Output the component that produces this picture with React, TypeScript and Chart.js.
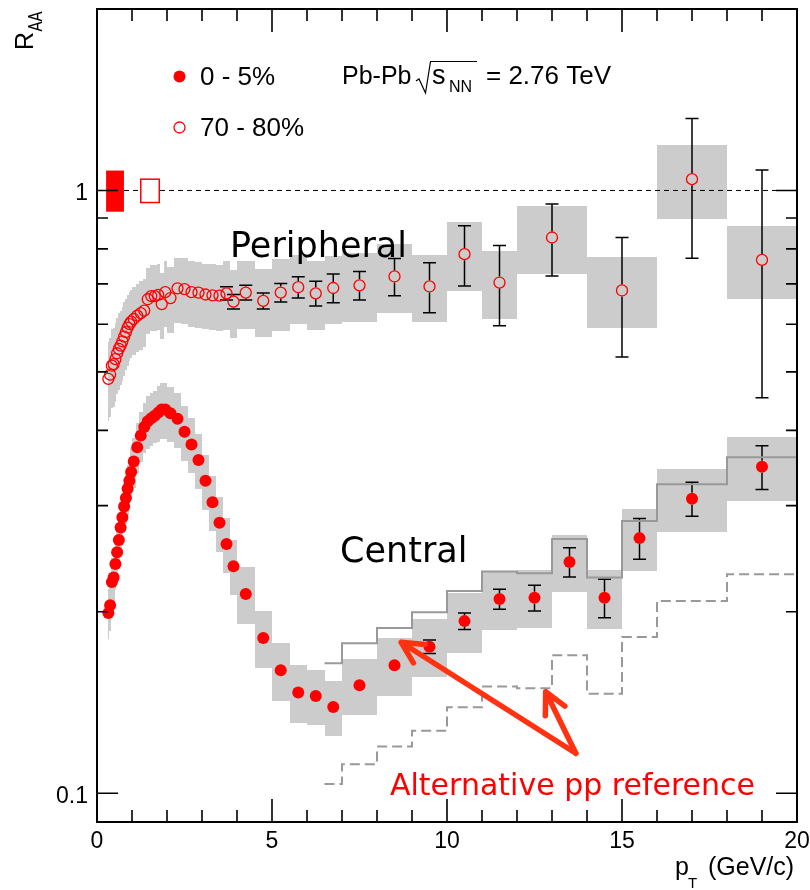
import React, { useEffect, useRef } from "react";
import { Chart, registerables } from "chart.js";

Chart.register(...registerables);

// ---------------- data ----------------
// 0-5% (central), filled circles
const cenPt = [0.325, 0.375, 0.425, 0.475, 0.525, 0.575, 0.625, 0.675, 0.725, 0.775, 0.825, 0.875, 0.925, 0.975,
  1.05, 1.15, 1.25, 1.35, 1.45, 1.55, 1.65, 1.75, 1.85, 1.95,
  2.1, 2.3, 2.5, 2.7, 2.9, 3.1, 3.3, 3.5, 3.7, 3.9,
  4.25, 4.75, 5.25, 5.75, 6.25, 6.75, 7.5, 8.5, 9.5, 10.5, 11.5, 12.5, 13.5, 14.5, 15.5, 17, 19];
const cenBinW = [0.05, 0.05, 0.05, 0.05, 0.05, 0.05, 0.05, 0.05, 0.05, 0.05, 0.05, 0.05, 0.05, 0.05,
  0.1, 0.1, 0.1, 0.1, 0.1, 0.1, 0.1, 0.1, 0.1, 0.1,
  0.2, 0.2, 0.2, 0.2, 0.2, 0.2, 0.2, 0.2, 0.2, 0.2,
  0.5, 0.5, 0.5, 0.5, 0.5, 0.5, 1, 1, 1, 1, 1, 1, 1, 1, 1, 2, 2];
const cenRaa = [0.199, 0.205, 0.224, 0.228, 0.240, 0.251, 0.263, 0.276, 0.287, 0.299, 0.309, 0.320, 0.330, 0.341,
  0.355, 0.375, 0.392, 0.405, 0.414, 0.419, 0.423, 0.428, 0.433, 0.433,
  0.427, 0.418, 0.398, 0.379, 0.357, 0.330, 0.304, 0.281, 0.259, 0.238,
  0.214, 0.181, 0.160, 0.147, 0.145, 0.139, 0.151, 0.163, 0.175, 0.193, 0.210, 0.211, 0.242, 0.211, 0.265, 0.308, 0.348];
const cenStat = [0, 0, 0, 0, 0, 0, 0, 0, 0, 0, 0, 0, 0, 0,
  0, 0, 0, 0, 0, 0, 0, 0, 0, 0,
  0, 0, 0, 0, 0, 0, 0, 0, 0, 0,
  0, 0, 0, 0, 0, 0, 0.002, 0.003, 0.0045, 0.006, 0.008, 0.0103, 0.0135, 0.0155, 0.0206, 0.020, 0.029];
const cenSysRel = [0.095, 0.095, 0.095, 0.095, 0.095, 0.095, 0.095, 0.095, 0.095, 0.095, 0.095, 0.095, 0.095, 0.095,
  0.095, 0.095, 0.095, 0.095, 0.1, 0.1, 0.1, 0.105, 0.105, 0.105,
  0.105, 0.105, 0.105, 0.105, 0.105, 0.105, 0.105, 0.105, 0.105, 0.105,
  0.107, 0.107, 0.11, 0.11, 0.105, 0.105, 0.107, 0.11, 0.11, 0.115, 0.11, 0.11, 0.11, 0.112, 0.117, 0.12, 0.122];

// 70-80% (peripheral), open circles
const perPt = [0.325, 0.375, 0.425, 0.475, 0.525, 0.575, 0.625, 0.675, 0.725, 0.775, 0.825, 0.875, 0.925, 0.975,
  1.05, 1.15, 1.25, 1.35, 1.45, 1.55, 1.65, 1.75, 1.85, 1.95,
  2.1, 2.3, 2.5, 2.7, 2.9, 3.1, 3.3, 3.5, 3.7, 3.9,
  4.25, 4.75, 5.25, 5.75, 6.25, 6.75, 7.5, 8.5, 9.5, 10.5, 11.5, 13, 15, 17, 19];
const perBinW = [0.05, 0.05, 0.05, 0.05, 0.05, 0.05, 0.05, 0.05, 0.05, 0.05, 0.05, 0.05, 0.05, 0.05,
  0.1, 0.1, 0.1, 0.1, 0.1, 0.1, 0.1, 0.1, 0.1, 0.1,
  0.2, 0.2, 0.2, 0.2, 0.2, 0.2, 0.2, 0.2, 0.2, 0.2,
  0.5, 0.5, 0.5, 0.5, 0.5, 0.5, 1, 1, 1, 1, 1, 2, 2, 2, 2];
const perRaa = [0.487, 0.495, 0.512, 0.515, 0.525, 0.537, 0.546, 0.553, 0.562, 0.572, 0.582, 0.592, 0.600, 0.606,
  0.612, 0.620, 0.626, 0.632, 0.660, 0.668, 0.668, 0.671, 0.648, 0.678,
  0.663, 0.688, 0.686, 0.678, 0.677, 0.672, 0.670, 0.669, 0.675, 0.654,
  0.677, 0.656, 0.677, 0.691, 0.675, 0.689, 0.696, 0.720, 0.693, 0.784, 0.7035, 0.8355, 0.6825, 1.044, 0.767];
const perStat = [0, 0, 0, 0, 0, 0, 0, 0, 0, 0, 0, 0, 0, 0,
  0, 0, 0, 0, 0, 0, 0, 0, 0, 0,
  0, 0.01, 0.011, 0.011, 0.012, 0.012, 0.013, 0.015, 0.017, 0.018,
  0.019, 0.02, 0.024, 0.028, 0.032, 0.038, 0.038, 0.051, 0.066, 0.09, 0.107, 0.114, 0.153, 0.272, 0.314];
const perSysRel = [0.15, 0.15, 0.15, 0.15, 0.15, 0.145, 0.145, 0.14, 0.14, 0.14, 0.135, 0.135, 0.13, 0.13,
  0.13, 0.13, 0.13, 0.13, 0.125, 0.125, 0.125, 0.125, 0.125, 0.125,
  0.125, 0.125, 0.125, 0.125, 0.125, 0.125, 0.125, 0.125, 0.13, 0.13,
  0.13, 0.13, 0.135, 0.13, 0.13, 0.13, 0.13, 0.13, 0.128, 0.13, 0.13, 0.13, 0.135, 0.14, 0.14];

// Alternative pp reference histograms (bin edges + contents)
const altEdges = [6.5, 7, 8, 9, 10, 11, 12, 13, 14, 15, 16, 18, 20];
const altCentral = [0.1643, 0.1774, 0.188, 0.1997, 0.2166, 0.2332, 0.2318, 0.264, 0.228, 0.283, 0.3257, 0.361];
const altLower = [0.1036, 0.1117, 0.1195, 0.127, 0.1389, 0.1503, 0.1493, 0.1694, 0.1462, 0.1817, 0.2085, 0.2309];

// normalisation uncertainty boxes at R_AA = 1: [ptLow, ptHigh, low, high]
const normCentral = [0.26, 0.77, 0.922, 1.079];
const normPeripheral = [1.25, 1.78, 0.955, 1.044];

// arrow annotation (data coordinates): tail and two tips
const arrowTail = [13.68, 0.1165];
const arrowTips = [[8.69, 0.178], [12.82, 0.1474]];

// axis ticks
const xTickVals = [0, 1, 2, 3, 4, 5, 6, 7, 8, 9, 10, 11, 12, 13, 14, 15, 16, 17, 18, 19, 20];
const xMajorVals = [0, 5, 10, 15, 20];
const xTickLabels = ["0", "5", "10", "15", "20"];
const yMinorVals = [0.2, 0.3, 0.4, 0.5, 0.6, 0.7, 0.8, 0.9];
const yMajorVals = [0.1, 1];
const yTickLabels = ["0.1", "1"];

// ---------------- styles / layout ----------------
const RED = "#ff0000";
const GRAY_BOX = "#cccccc";
const GRAY_LINE = "#999999";
const ARROW_COLOR = "#ff3311";
const HELV = '"Liberation Sans", Arial, Helvetica, sans-serif';
const LUCIDA = '"DejaVu Sans", "Noto Sans", sans-serif';

const toXY = (xs: number[], ys: number[]) => xs.map((x, i) => ({ x, y: ys[i] }));
const stepPts = (edges: number[], vals: number[]) => {
  const p = vals.map((v, i) => ({ x: edges[i], y: v }));
  p.push({ x: edges[edges.length - 1], y: vals[vals.length - 1] });
  return p;
};

const overlay = {
  id: "raaOverlay",
  beforeDatasetsDraw(chart: any) {
    const { ctx, chartArea: a } = chart;
    const xs = chart.scales.x;
    const ys = chart.scales.y;
    ctx.save();
    ctx.beginPath();
    ctx.rect(a.left, a.top, a.right - a.left, a.bottom - a.top);
    ctx.clip();
    // systematic boxes (snapped to whole pixels so neighbouring bins join)
    ctx.fillStyle = GRAY_BOX;
    const boxes = (pt: number[], w: number[], v: number[], rel: number[]) => {
      pt.forEach((p, i) => {
        const x0 = Math.round(xs.getPixelForValue(p - w[i] / 2));
        let x1 = Math.round(xs.getPixelForValue(p + w[i] / 2));
        if (x1 <= x0) x1 = x0 + 1;
        const y0 = Math.round(ys.getPixelForValue(v[i] * (1 + rel[i])));
        const y1 = Math.round(ys.getPixelForValue(v[i] * (1 - rel[i])));
        ctx.fillRect(x0, y0, x1 - x0, y1 - y0);
      });
    };
    boxes(perPt, perBinW, perRaa, perSysRel);
    boxes(cenPt, cenBinW, cenRaa, cenSysRel);
    // statistical error bars
    ctx.strokeStyle = "#000";
    ctx.lineWidth = 1.5;
    const bars = (pt: number[], v: number[], s: number[]) => {
      pt.forEach((p, i) => {
        if (!s[i]) return;
        const px = xs.getPixelForValue(p);
        const yc = ys.getPixelForValue(v[i]);
        const yh = ys.getPixelForValue(v[i] + s[i]);
        const yl = ys.getPixelForValue(v[i] - s[i]);
        const r = 6;
        const cap = 6.5;
        ctx.beginPath();
        if (yc - yh > r) {
          ctx.moveTo(px, yc - r); ctx.lineTo(px, yh);
          ctx.moveTo(px - cap, yh); ctx.lineTo(px + cap, yh);
        }
        if (yl - yc > r) {
          ctx.moveTo(px, yc + r); ctx.lineTo(px, yl);
          ctx.moveTo(px - cap, yl); ctx.lineTo(px + cap, yl);
        }
        ctx.stroke();
      });
    };
    bars(perPt, perRaa, perStat);
    bars(cenPt, cenRaa, cenStat);
    ctx.restore();
  },
  afterDatasetsDraw(chart: any) {
    const { ctx } = chart;
    const xs = chart.scales.x;
    const ys = chart.scales.y;
    ctx.save();
    // normalisation boxes
    const nb = (b: number[], filled: boolean) => {
      const x0 = xs.getPixelForValue(b[0]);
      const x1 = xs.getPixelForValue(b[1]);
      const y0 = ys.getPixelForValue(b[3]);
      const y1 = ys.getPixelForValue(b[2]);
      if (filled) {
        ctx.fillStyle = RED;
        ctx.fillRect(x0, y0, x1 - x0, y1 - y0);
      } else {
        ctx.fillStyle = "#fff";
        ctx.fillRect(x0, y0, x1 - x0, y1 - y0);
        ctx.strokeStyle = RED;
        ctx.lineWidth = 1.5;
        ctx.strokeRect(x0, y0, x1 - x0, y1 - y0);
      }
    };
    nb(normCentral, true);
    nb(normPeripheral, false);

    // arrows
    ctx.strokeStyle = ARROW_COLOR;
    ctx.lineWidth = 5.5;
    ctx.lineCap = "round";
    ctx.lineJoin = "round";
    const tx = xs.getPixelForValue(arrowTail[0]);
    const ty = ys.getPixelForValue(arrowTail[1]);
    arrowTips.forEach((t) => {
      const px = xs.getPixelForValue(t[0]);
      const py = ys.getPixelForValue(t[1]);
      const ang = Math.atan2(ty - py, tx - px);
      const L = 24;
      const spread = 0.47;
      ctx.beginPath();
      ctx.moveTo(tx, ty);
      ctx.lineTo(px, py);
      ctx.moveTo(px + L * Math.cos(ang + spread), py + L * Math.sin(ang + spread));
      ctx.lineTo(px, py);
      ctx.lineTo(px + L * Math.cos(ang - spread), py + L * Math.sin(ang - spread));
      ctx.stroke();
    });
    ctx.restore();
  },
  afterDraw(chart: any) {
    const { ctx, chartArea: a } = chart;
    const xs = chart.scales.x;
    const ys = chart.scales.y;
    ctx.save();
    ctx.strokeStyle = "#000";
    ctx.lineCap = "butt";
    // frame
    ctx.lineWidth = 2;
    ctx.strokeRect(a.left, a.top, a.right - a.left, a.bottom - a.top);
    // ticks
    ctx.lineWidth = 1.6;
    ctx.beginPath();
    xTickVals.forEach((v) => {
      const px = xs.getPixelForValue(v);
      const len = xMajorVals.includes(v) ? 23 : 12;
      ctx.moveTo(px, a.bottom); ctx.lineTo(px, a.bottom - len);
      ctx.moveTo(px, a.top); ctx.lineTo(px, a.top + len);
    });
    yMinorVals.forEach((v) => {
      const py = ys.getPixelForValue(v);
      ctx.moveTo(a.left, py); ctx.lineTo(a.left + 11, py);
      ctx.moveTo(a.right, py); ctx.lineTo(a.right - 11, py);
    });
    yMajorVals.forEach((v) => {
      const py = ys.getPixelForValue(v);
      ctx.moveTo(a.left, py); ctx.lineTo(a.left + 21, py);
      ctx.moveTo(a.right, py); ctx.lineTo(a.right - 21, py);
    });
    ctx.stroke();

    // tick labels
    ctx.fillStyle = "#000";
    ctx.font = `23px ${HELV}`;
    ctx.textAlign = "center";
    ctx.textBaseline = "alphabetic";
    xMajorVals.forEach((v, i) => {
      ctx.fillText(xTickLabels[i], xs.getPixelForValue(v), a.bottom + 26);
    });
    ctx.textAlign = "right";
    yMajorVals.forEach((v, i) => {
      ctx.fillText(yTickLabels[i], a.left - 9, ys.getPixelForValue(v) + 10);
    });

    // axis titles
    ctx.textAlign = "left";
    ctx.font = `25px ${HELV}`;
    ctx.fillText("p", 675, 875);
    ctx.font = `15px ${HELV}`;
    ctx.fillText("T", 688, 888);
    ctx.font = `25px ${HELV}`;
    ctx.fillText("(GeV/c)", 708, 875);

    ctx.save();
    ctx.translate(33, 50);
    ctx.rotate(-Math.PI / 2);
    ctx.font = `25px ${HELV}`;
    ctx.fillText("R", 0, 0);
    ctx.translate(18.5, 9);
    ctx.scale(0.75, 1);
    ctx.font = `20px ${HELV}`;
    ctx.fillText("AA", 0, 0);
    ctx.restore();

    // legend
    ctx.fillStyle = RED;
    ctx.beginPath();
    ctx.arc(179.5, 76.5, 6, 0, Math.PI * 2);
    ctx.fill();
    ctx.strokeStyle = RED;
    ctx.lineWidth = 1.3;
    ctx.beginPath();
    ctx.arc(179.5, 127.5, 5.5, 0, Math.PI * 2);
    ctx.stroke();
    ctx.fillStyle = "#000";
    ctx.font = `26px ${HELV}`;
    ctx.fillText("0 - 5%", 200, 85);
    ctx.fillText("70 - 80%", 200, 136);

    // collision system label
    ctx.font = `25px ${HELV}`;
    ctx.fillText("Pb-Pb", 342, 84);
    ctx.strokeStyle = "#000";
    ctx.lineWidth = 1.2;
    ctx.beginPath();
    ctx.moveTo(416, 81);
    ctx.lineTo(419, 79);
    ctx.lineTo(425.5, 93);
    ctx.lineTo(430.5, 61.5);
    ctx.lineTo(477, 61.5);
    ctx.stroke();
    ctx.font = `27px ${HELV}`;
    ctx.fillText("s", 432, 84);
    ctx.font = `16px ${HELV}`;
    ctx.fillText("NN", 449, 92);
    ctx.font = `26px ${HELV}`;
    ctx.fillText("= 2.76 TeV", 486, 84);

    // annotations
    ctx.font = `35px ${LUCIDA}`;
    ctx.fillStyle = "#000";
    ctx.fillText("Peripheral", 230, 257);
    ctx.fillText("Central", 340, 562);
    ctx.font = `30px ${LUCIDA}`;
    ctx.fillStyle = RED;
    ctx.fillText("Alternative pp reference", 390, 795);
    ctx.restore();
  },
};

export default function App() {
  const ref = useRef<HTMLCanvasElement | null>(null);
  useEffect(() => {
    document.body.style.margin = "0";
    const canvas = ref.current;
    if (!canvas) return;
    const chart = new Chart(canvas, {
      type: "scatter",
      data: {
        datasets: [
          {
            label: "0 - 5%",
            data: toXY(cenPt, cenRaa),
            pointRadius: 6,
            pointBorderWidth: 0,
            pointBackgroundColor: RED,
            pointBorderColor: RED,
            showLine: false,
            order: 0,
          } as any,
          {
            label: "70 - 80%",
            data: toXY(perPt, perRaa),
            pointRadius: 5.5,
            pointBorderWidth: 1.3,
            pointBackgroundColor: "rgba(0,0,0,0)",
            pointBorderColor: RED,
            showLine: false,
            order: 1,
          } as any,
          {
            type: "line",
            label: "alt pp ref (central)",
            data: stepPts(altEdges, altCentral),
            stepped: "before",
            borderColor: GRAY_LINE,
            borderWidth: 2,
            pointRadius: 0,
            fill: false,
            order: 3,
          } as any,
          {
            type: "line",
            label: "alt pp ref (lower)",
            data: stepPts(altEdges, altLower),
            stepped: "before",
            borderColor: GRAY_LINE,
            borderWidth: 2,
            borderDash: [10, 5],
            pointRadius: 0,
            fill: false,
            order: 4,
          } as any,
          {
            type: "line",
            label: "unity",
            data: [{ x: 0, y: 1 }, { x: 20, y: 1 }],
            borderColor: "#000",
            borderWidth: 1,
            borderDash: [5, 4],
            pointRadius: 0,
            fill: false,
            order: 5,
          } as any,
        ],
      },
      options: {
        animation: false,
        responsive: false,
        devicePixelRatio: 1,
        layout: { padding: { left: 97, right: 13, top: 9, bottom: 68 } },
        plugins: { legend: { display: false }, tooltip: { enabled: false } },
        scales: {
          x: { type: "linear", min: 0, max: 20, display: false },
          y: { type: "logarithmic", min: 0.0896, max: 2.0, display: false },
        },
      },
      plugins: [overlay],
    } as any);
    return () => chart.destroy();
  }, []);
  return <canvas ref={ref} width={810} height={890} style={{ display: "block" }} />;
}
